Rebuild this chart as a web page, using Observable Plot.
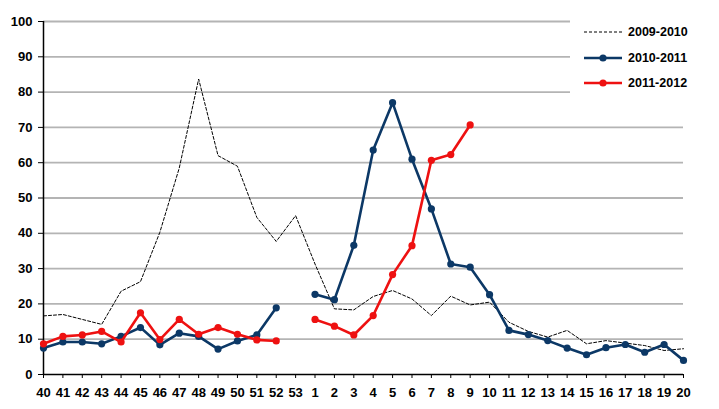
<!DOCTYPE html>
<html>
<head>
<meta charset="utf-8">
<script src="https://cdn.jsdelivr.net/npm/d3@7"></script>
<script src="https://cdn.jsdelivr.net/npm/@observablehq/plot@0.6"></script>
<style>
  body { margin: 0; background: #fff; }
  #wrap { position: relative; width: 719px; height: 409px; font-family: "Liberation Sans", Arial, sans-serif; }
  #legend { position: absolute; left: 570px; top: 16px; width: 149px; height: 78px; background: #fff; }
  .item { position: absolute; left: 14px; height: 14px; display: flex; align-items: center; font-weight: bold; font-size: 12.5px; color: #000; }
  .item svg { margin-right: 6px; }
</style>
</head>
<body>
<div id="wrap"></div>
<script>
const weeks = ["40","41","42","43","44","45","46","47","48","49","50","51","52","53",
  "1","2","3","4","5","6","7","8","9","10","11","12","13","14","15","16","17","18","19","20"];
const seriesNames = ["2009-2010", "2010-2011", "2011-2012"];
const s2009 = [16.6,17.0,15.6,14.2,23.6,26.3,40.3,58.5,83.7,62.0,59.0,44.5,37.7,45.0,
  31.3,18.6,18.3,22.1,23.8,21.4,16.7,22.2,19.7,20.5,14.8,12.2,10.6,12.5,8.7,9.6,8.9,8.2,6.8,7.3];
const s2010 = [7.5,9.2,9.2,8.7,10.8,13.3,8.4,11.7,10.8,7.2,9.5,11.2,18.9,null,
  22.7,21.2,36.6,63.6,77.0,61.0,46.9,31.3,30.4,22.6,12.5,11.3,9.6,7.5,5.6,7.6,8.5,6.3,8.5,4.0];
const s2011 = [8.7,10.8,11.2,12.2,9.2,17.5,9.9,15.6,11.4,13.3,11.4,9.8,9.5,null,
  15.6,13.7,11.2,16.7,28.3,36.5,60.7,62.3,70.7];
const yTicks = [0,10,20,30,40,50,60,70,80,90,100];

const colors = {"2009-2010": "#000000", "2010-2011": "#0c3866", "2011-2012": "#ee1111"};

function rows(vals) {
  return weeks.map((w, i) => ({week: w, value: (vals[i] === undefined || vals[i] === null) ? NaN : vals[i]}));
}
const d2009 = rows(s2009), d2010 = rows(s2010), d2011 = rows(s2011);

const chart = Plot.plot({
  width: 719,
  height: 409,
  marginLeft: 43,
  marginRight: 36,
  marginTop: 21,
  marginBottom: 35,
  style: {fontFamily: "'Liberation Sans', Arial, sans-serif", background: "#fff"},
  x: {type: "point", domain: weeks, padding: 0, round: false, label: null},
  y: {domain: [0, 100], label: null},
  marks: [
    Plot.ruleY(yTicks.filter(d => d > 0), {stroke: "#b4b4b4", strokeWidth: 1.8}),
    Plot.axisY({ticks: yTicks, tickSize: 5, tickPadding: 6, fontSize: 13, fontWeight: "bold", fill: "#000", label: null}),
    Plot.axisX({tickSize: 4, tickPadding: 9, fontSize: 13, fontWeight: "bold", fill: "#000", label: null}),
    Plot.ruleX(["40"], {stroke: "#000", strokeWidth: 1.5}),
    Plot.ruleY([0], {stroke: "#000", strokeWidth: 1.5}),
    Plot.line(d2009, {x: "week", y: "value", stroke: colors["2009-2010"], strokeWidth: 1, strokeDasharray: "3,2"}),
    Plot.line(d2010, {x: "week", y: "value", stroke: colors["2010-2011"], strokeWidth: 2.6}),
    Plot.dot(d2010.filter(d => !isNaN(d.value)), {x: "week", y: "value", r: 3.6, fill: colors["2010-2011"]}),
    Plot.line(d2011, {x: "week", y: "value", stroke: colors["2011-2012"], strokeWidth: 2.6}),
    Plot.dot(d2011.filter(d => !isNaN(d.value)), {x: "week", y: "value", r: 3.6, fill: colors["2011-2012"]})
  ]
});

const wrap = document.getElementById("wrap");
wrap.appendChild(chart);

const legend = document.createElement("div");
legend.id = "legend";
const tops = [9, 35, 60];
seriesNames.forEach((name, i) => {
  const item = document.createElement("div");
  item.className = "item";
  item.style.top = tops[i] + "px";
  const c = colors[name];
  let sample;
  if (i === 0) {
    sample = `<svg width="38" height="10"><line x1="0" y1="5" x2="38" y2="5" stroke="${c}" stroke-width="1" stroke-dasharray="3,2"/></svg>`;
  } else {
    sample = `<svg width="38" height="10"><line x1="0" y1="5" x2="38" y2="5" stroke="${c}" stroke-width="2.6"/><circle cx="19" cy="5" r="3.6" fill="${c}"/></svg>`;
  }
  item.innerHTML = sample + `<span>${name}</span>`;
  legend.appendChild(item);
});
wrap.appendChild(legend);
</script>
</body>
</html>
